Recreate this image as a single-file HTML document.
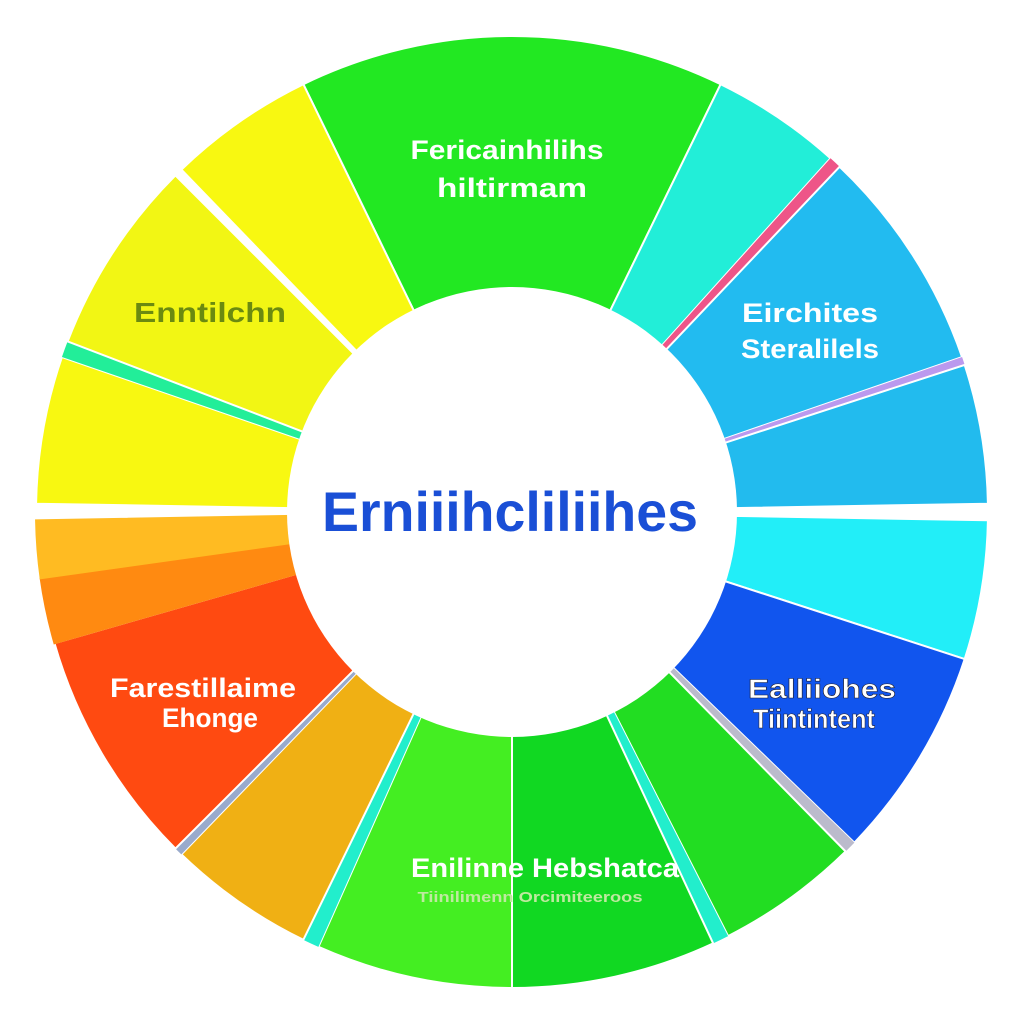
<!DOCTYPE html>
<html><head><meta charset="utf-8"><style>
html,body{margin:0;padding:0;background:#fff;}
svg{display:block;}
text{font-family:"Liberation Sans",sans-serif;font-weight:bold;}
</style></head><body>
<svg id="chart" width="1024" height="1024" viewBox="0 0 1024 1024">
<rect width="1024" height="1024" fill="#fff"/>
<g id="slices"></g>
<circle cx="512" cy="512" r="225" fill="#fff"/>
<text x="510" y="531" font-size="56" fill="#1a4fd6" text-anchor="middle" textLength="376" lengthAdjust="spacingAndGlyphs">Erniiihcliliihes</text>
<g font-size="27" text-anchor="middle">
<text x="507" y="159" fill="#fff" textLength="193" lengthAdjust="spacingAndGlyphs">Fericainhilihs</text>
<text x="512" y="197" fill="#fff" textLength="150" lengthAdjust="spacingAndGlyphs">hiltirmam</text>
<text x="210" y="322" fill="#6b8a10" font-size="28" textLength="152" lengthAdjust="spacingAndGlyphs">Enntilchn</text>
<text x="810" y="322" fill="#fff" textLength="136" lengthAdjust="spacingAndGlyphs">Eirchites</text>
<text x="810" y="358" fill="#fff" textLength="138" lengthAdjust="spacingAndGlyphs">Steralilels</text>
<text x="822" y="698" fill="#fff" stroke="#223" stroke-width="0.6" textLength="148" lengthAdjust="spacingAndGlyphs">Ealliiohes</text>
<text x="814" y="728" fill="#fff" stroke="#223" stroke-width="0.6" textLength="122" lengthAdjust="spacingAndGlyphs">Tiintintent</text>
<text x="203" y="697" fill="#fff" textLength="186" lengthAdjust="spacingAndGlyphs">Farestillaime</text>
<text x="210" y="727" fill="#fff" textLength="96" lengthAdjust="spacingAndGlyphs">Ehonge</text>
<text x="545" y="877" fill="#fff" textLength="268" lengthAdjust="spacingAndGlyphs">Enilinne Hebshatca</text>
<text x="530" y="902" fill="#bfe9a0" font-size="15" font-weight="normal" textLength="225" lengthAdjust="spacingAndGlyphs">Tiinilimenn Orcimiteeroos</text>
</g>
</svg>
<script>
const sliceStarts=[-26,26,42,43.5,71,72,91,108,134,135.5,153,155,180,204,206,224,225,254,262,271,289,291,316];
const sliceEnds=[26,42,43.5,71,72,89,108,134,135.5,153,155,180,204,206,224,225,254,262,269,289,291,315,334];
const sliceColors=["#22e822","#22eed8","#ee5588","#22bbf0","#bb99ee","#22bbee","#22eef8","#1155ee","#bbbbcc","#22dd22","#22eecc","#11d822","#44ee22","#22eecc","#f0b014","#99aacc","#ff4a11","#ff8a11","#ffbb22","#f8f811","#22ee99","#f2f614","#f8f811"];
const cx=512,cy=512,R=476,r=226;
function pt(a,rad){const t=a*Math.PI/180;return [cx+rad*Math.sin(t),cy-rad*Math.cos(t)];}
const g=document.getElementById('slices');
for(let i=0;i<sliceStarts.length;i++){
  const a0=sliceStarts[i],a1=sliceEnds[i];
  const p0=pt(a0,R),p1=pt(a1,R),p2=pt(a1,r-5),p3=pt(a0,r-5);
  const lg=(a1-a0)>180?1:0;
  const d=`M${p0[0]},${p0[1]} A${R},${R} 0 ${lg} 1 ${p1[0]},${p1[1]} L${p2[0]},${p2[1]} A${r-5},${r-5} 0 ${lg} 0 ${p3[0]},${p3[1]} Z`;
  const p=document.createElementNS('http://www.w3.org/2000/svg','path');
  p.setAttribute('d',d);
  p.setAttribute('fill',sliceColors[i]);
  p.setAttribute('stroke',sliceColors[i]==="#ff8a11"||sliceColors[i]==="#ffbb22"?sliceColors[i]:'#fff');
  p.setAttribute('stroke-width',(a1-a0)<3?'0':'2');
  
  
  g.appendChild(p);
}
</script>
</body></html>
